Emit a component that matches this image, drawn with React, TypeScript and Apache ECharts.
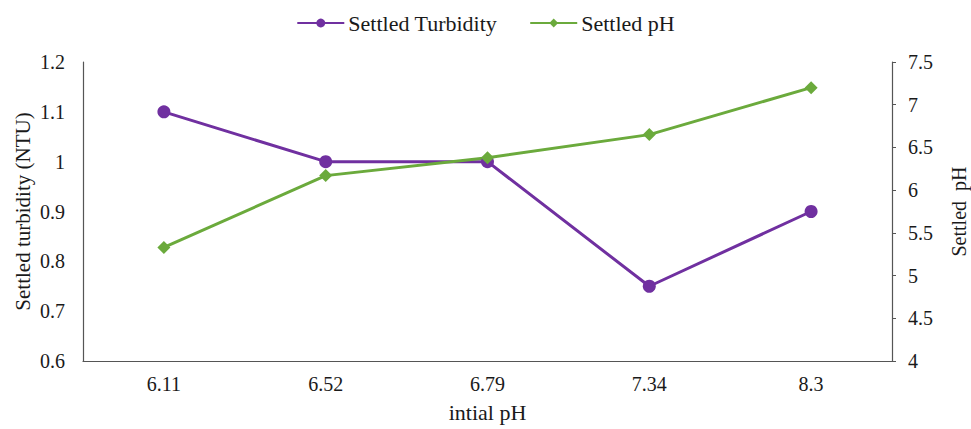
import React, { useEffect, useRef } from "react";
import * as echarts from "echarts";

const categories = ["6.11", "6.52", "6.79", "7.34", "8.3"];
const turbidity = [1.1, 1.0, 1.0, 0.75, 0.9];
const settledPH = [5.33, 6.17, 6.38, 6.65, 7.2];

const PURPLE = "#7030A0";
const GREEN = "#6BAA3C";
const FONT = "'Liberation Serif', 'Times New Roman', serif";
const TXT = "#1a1a1a";

export default function App() {
  const ref = useRef<HTMLDivElement>(null);
  useEffect(() => {
    const chart = echarts.init(ref.current!, null, { renderer: "svg" });
    chart.setOption({
      animation: false,
      textStyle: { fontFamily: FONT },
      legend: {
        top: 7,
        left: "center",
        itemWidth: 47,
        itemHeight: 11,
        itemGap: 32,
        textStyle: { fontFamily: FONT, fontSize: 22, color: TXT, padding: [0, 0, 0, -1] },
        data: ["Settled Turbidity", "Settled pH"],
      },
      grid: { left: 83, right: 79, top: 62, bottom: 68, containLabel: false, outerBoundsMode: "none" },
      xAxis: {
        type: "category",
        data: categories,
        boundaryGap: true,
        name: "intial pH",
        nameLocation: "middle",
        nameGap: 40,
        nameTextStyle: { fontFamily: FONT, fontSize: 22, color: TXT },
        axisLine: { lineStyle: { color: "#555", width: 1.2 } },
        axisTick: { show: false },
        axisLabel: { fontFamily: FONT, fontSize: 20, color: TXT, margin: 13 },
      },
      yAxis: [
        {
          type: "value",
          min: 0.6,
          max: 1.2,
          interval: 0.1,
          name: "Settled turbidity (NTU)",
          nameLocation: "middle",
          nameGap: 50,
          nameMoveOverlap: false,
          nameRotate: 90,
          nameTextStyle: { fontFamily: FONT, fontSize: 21, color: TXT },
          axisLine: { show: true, lineStyle: { color: "#555", width: 1.2 } },
          axisTick: { show: false },
          splitLine: { show: false },
          axisLabel: {
            fontFamily: FONT,
            fontSize: 20,
            color: TXT,
            margin: 18,
            formatter: (v: number) => String(Math.round(v * 10) / 10),
          },
        },
        {
          type: "value",
          min: 4,
          max: 7.5,
          interval: 0.5,
          position: "right",
          name: "Settled  pH",
          nameLocation: "middle",
          nameGap: 57,
          nameRotate: 90,
          nameTextStyle: { fontFamily: FONT, fontSize: 20, color: TXT },
          axisLine: { show: true, lineStyle: { color: "#555", width: 1.2 } },
          axisTick: { show: true, length: 4, lineStyle: { color: "#555" } },
          splitLine: { show: false },
          axisLabel: { fontFamily: FONT, fontSize: 20, color: TXT, margin: 16 },
        },
      ],
      series: [
        {
          name: "Settled Turbidity",
          type: "line",
          yAxisIndex: 0,
          data: turbidity,
          symbol: "circle",
          symbolSize: 13,
          itemStyle: { color: PURPLE },
          lineStyle: { color: PURPLE, width: 3 },
        },
        {
          name: "Settled pH",
          type: "line",
          yAxisIndex: 1,
          data: settledPH,
          symbol: "diamond",
          symbolSize: 13,
          itemStyle: { color: GREEN },
          lineStyle: { color: GREEN, width: 3 },
        },
      ],
    });
    return () => chart.dispose();
  }, []);
  return (
    <div
      ref={ref}
      style={{ position: "fixed", left: 0, top: 0, width: 971, height: 429, background: "#fff" }}
    />
  );
}
